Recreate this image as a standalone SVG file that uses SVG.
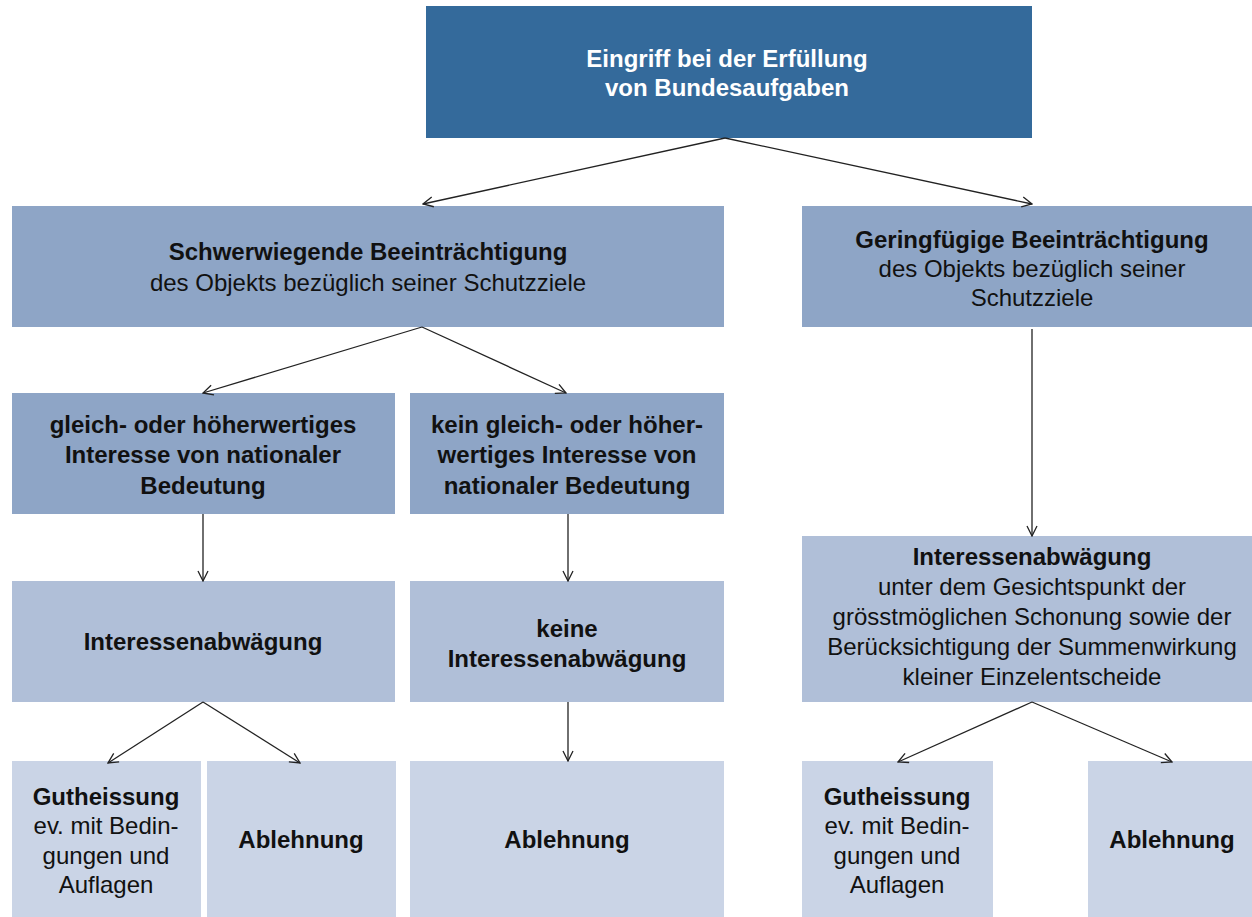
<svg xmlns="http://www.w3.org/2000/svg" width="1252" height="917" viewBox="0 0 1252 917">
  <style>
    text { font-family: "Liberation Sans", Arial, sans-serif; font-size: 24px; text-anchor: middle; fill: #111; }
    .b { font-weight: bold; }
    .w { fill: #ffffff; font-weight: bold; }
    .c0 { fill: #346a9b; }
    .c1 { fill: #8ea5c6; }
    .c2 { fill: #b0bfd8; }
    .c3 { fill: #cad4e6; }
    .conn line { stroke: #222; stroke-width: 1.3; fill: none; marker-end: url(#arr); }
  </style>
  <defs>
    <marker id="arr" viewBox="0 0 12 12" refX="11" refY="6" markerWidth="12" markerHeight="12" markerUnits="userSpaceOnUse" orient="auto">
      <path d="M1,1 L11,6 L1,11" fill="none" stroke="#222" stroke-width="1.3"/>
    </marker>
  </defs>
  <rect width="1252" height="917" fill="#ffffff"/>

  <g id="n-eingriff">
    <rect class="c0" x="426" y="6" width="606" height="132"/>
    <text class="w" x="727" y="67">Eingriff bei der Erfüllung</text>
    <text class="w" x="727" y="96">von Bundesaufgaben</text>
  </g>
  <g id="n-schwer">
    <rect class="c1" x="12" y="206" width="712" height="121"/>
    <text class="b" x="368" y="260">Schwerwiegende Beeinträchtigung</text>
    <text x="368" y="291">des Objekts bezüglich seiner Schutzziele</text>
  </g>
  <g id="n-gering">
    <rect class="c1" x="802" y="206" width="450" height="121"/>
    <text class="b" x="1032" y="248">Geringfügige Beeinträchtigung</text>
    <text x="1032" y="277">des Objekts bezüglich seiner</text>
    <text x="1032" y="306">Schutzziele</text>
  </g>
  <g id="n-gleich">
    <rect class="c1" x="12" y="393" width="383" height="121"/>
    <text class="b" x="203" y="433">gleich- oder höherwertiges</text>
    <text class="b" x="203" y="463">Interesse von nationaler</text>
    <text class="b" x="203" y="494">Bedeutung</text>
  </g>
  <g id="n-kein">
    <rect class="c1" x="410" y="393" width="314" height="121"/>
    <text class="b" x="567" y="433">kein gleich- oder höher-</text>
    <text class="b" x="567" y="463">wertiges Interesse von</text>
    <text class="b" x="567" y="494">nationaler Bedeutung</text>
  </g>
  <g id="n-interessen-l">
    <rect class="c2" x="12" y="581" width="383" height="121"/>
    <text class="b" x="203" y="650">Interessenabwägung</text>
  </g>
  <g id="n-keine">
    <rect class="c2" x="410" y="581" width="314" height="121"/>
    <text class="b" x="567" y="637">keine</text>
    <text class="b" x="567" y="667">Interessenabwägung</text>
  </g>
  <g id="n-interessen-r">
    <rect class="c2" x="802" y="536" width="450" height="166"/>
    <text class="b" x="1032" y="565">Interessenabwägung</text>
    <text x="1032" y="595">unter dem Gesichtspunkt der</text>
    <text x="1032" y="625">grösstmöglichen Schonung sowie der</text>
    <text x="1032" y="655">Berücksichtigung der Summenwirkung</text>
    <text x="1032" y="685">kleiner Einzelentscheide</text>
  </g>
  <g id="n-gut-l">
    <rect class="c3" x="12" y="761" width="189" height="156"/>
    <text class="b" x="106" y="805">Gutheissung</text>
    <text x="106" y="834">ev. mit Bedin-</text>
    <text x="106" y="864">gungen und</text>
    <text x="106" y="893">Auflagen</text>
  </g>
  <g id="n-abl-l">
    <rect class="c3" x="207" y="761" width="189" height="156"/>
    <text class="b" x="301" y="848">Ablehnung</text>
  </g>
  <g id="n-abl-m">
    <rect class="c3" x="410" y="761" width="314" height="156"/>
    <text class="b" x="567" y="848">Ablehnung</text>
  </g>
  <g id="n-gut-r">
    <rect class="c3" x="802" y="761" width="191" height="156"/>
    <text class="b" x="897" y="805">Gutheissung</text>
    <text x="897" y="834">ev. mit Bedin-</text>
    <text x="897" y="864">gungen und</text>
    <text x="897" y="893">Auflagen</text>
  </g>
  <g id="n-abl-r">
    <rect class="c3" x="1088" y="761" width="164" height="156"/>
    <text class="b" x="1172" y="848">Ablehnung</text>
  </g>

  <g id="connectors" class="conn">
    <line x1="725" y1="138" x2="423" y2="204"/>
    <line x1="725" y1="138" x2="1032" y2="204"/>
    <line x1="422" y1="327" x2="203" y2="393"/>
    <line x1="422" y1="327" x2="566" y2="393"/>
    <line x1="1032" y1="329" x2="1032" y2="536"/>
    <line x1="203" y1="514" x2="203" y2="581"/>
    <line x1="568" y1="514" x2="568" y2="581"/>
    <line x1="203" y1="702" x2="108" y2="763"/>
    <line x1="203" y1="702" x2="300" y2="763"/>
    <line x1="568" y1="702" x2="568" y2="761"/>
    <line x1="1032" y1="702" x2="898" y2="762"/>
    <line x1="1032" y1="702" x2="1172" y2="762"/>
  </g>
</svg>
